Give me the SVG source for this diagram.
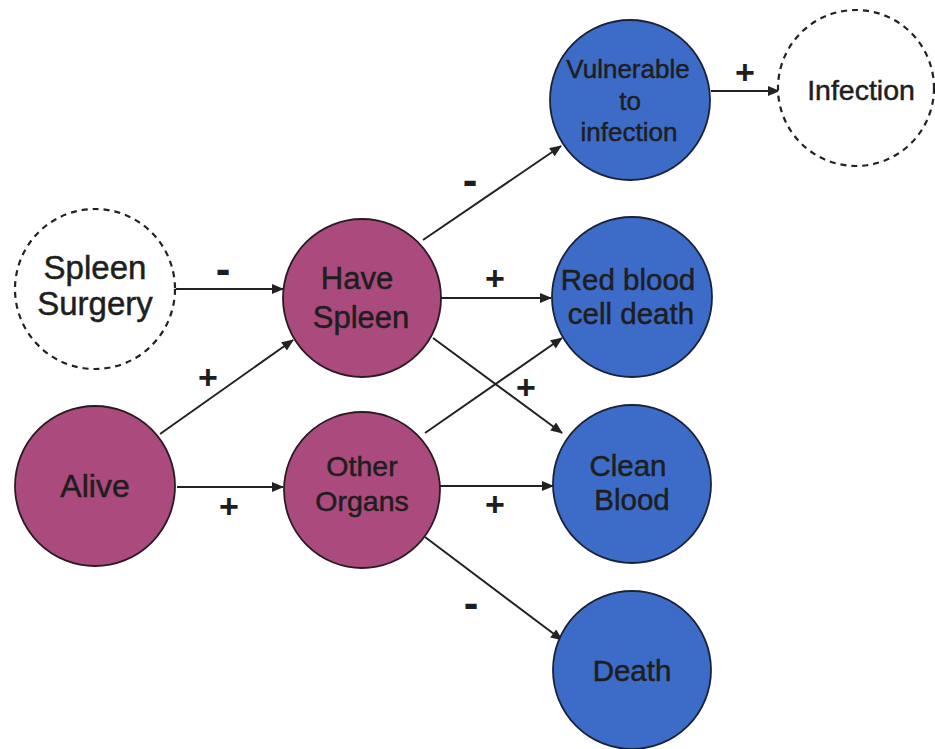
<svg xmlns="http://www.w3.org/2000/svg" width="935" height="749" viewBox="0 0 935 749">
<style>
.pink{fill:#ab4a7c;stroke:#2a1a22;stroke-width:1.8}
.blue{fill:#3d6cc8;stroke:#1a2238;stroke-width:1.8}
.dash{fill:#fff;stroke:#222;stroke-width:2.2;stroke-dasharray:6 5}
.t{font-family:"Liberation Sans",Arial,sans-serif;font-size:30px;fill:#1e1e1e;stroke:#1e1e1e;stroke-width:0.5;text-anchor:middle}
.lbl{font-family:"Liberation Sans",Arial,sans-serif;font-size:34px;font-weight:bold;fill:#1e1e1e;text-anchor:middle}
.mn{font-size:44px}
.e{stroke:#222;stroke-width:2;fill:none;marker-end:url(#ah)}
</style>
<defs>
<marker id="ah" viewBox="0 0 12 10" refX="11" refY="5" markerWidth="13" markerHeight="10" markerUnits="userSpaceOnUse" orient="auto">
<path d="M0,0 L12,5 L0,10 Z" fill="#222"/>
</marker>
</defs>
<rect width="935" height="749" fill="#fff"/>
<g id="connectors">
<line class="e" x1="176" y1="289" x2="283" y2="289"/>
<line class="e" x1="160" y1="434" x2="293" y2="340"/>
<line class="e" x1="177" y1="487" x2="283" y2="487"/>
<line class="e" x1="423" y1="240" x2="561" y2="146"/>
<line class="e" x1="440" y1="298" x2="551" y2="298"/>
<line class="e" x1="433" y1="338" x2="562" y2="433"/>
<line class="e" x1="425" y1="433" x2="562" y2="338"/>
<line class="e" x1="440" y1="486" x2="553" y2="486"/>
<line class="e" x1="425" y1="537" x2="562" y2="640"/>
<line class="e" x1="711" y1="91" x2="779" y2="91"/>
<text class="lbl mn" x="223" y="284">-</text>
<text class="lbl" x="208" y="389">+</text>
<text class="lbl" x="229" y="518">+</text>
<text class="lbl mn" x="470" y="195">-</text>
<text class="lbl" x="495" y="290">+</text>
<text class="lbl" x="526" y="399">+</text>
<text class="lbl" x="495" y="516">+</text>
<text class="lbl mn" x="471" y="618">-</text>
<text class="lbl" x="745" y="84">+</text>
</g>
<g id="spleen-surgery"><circle class="dash" cx="95" cy="289" r="80"/><text class="t" x="95" y="279" style="font-size:33px">Spleen</text><text class="t" x="95" y="315" style="font-size:33px">Surgery</text></g>
<g id="alive"><circle class="pink" cx="95" cy="486" r="80"/><text class="t" x="95" y="497" style="font-size:32px">Alive</text></g>
<g id="have-spleen"><circle class="pink" cx="362" cy="298" r="79"/><text class="t" x="357" y="289" style="font-size:31px">Have</text><text class="t" x="361" y="328" style="font-size:31px">Spleen</text></g>
<g id="other-organs"><circle class="pink" cx="362" cy="490" r="78"/><text class="t" x="362" y="476" style="font-size:28.5px">Other</text><text class="t" x="362" y="511" style="font-size:28.5px">Organs</text></g>
<g id="vulnerable"><circle class="blue" cx="630" cy="100" r="80"/><text class="t" x="628" y="78" style="font-size:26px">Vulnerable</text><text class="t" x="630" y="110" style="font-size:26px">to</text><text class="t" x="629" y="141" style="font-size:26px">infection</text></g>
<g id="infection"><circle class="dash" cx="856" cy="88" r="78"/><text class="t" x="861" y="100" style="font-size:28.5px">Infection</text></g>
<g id="red-blood"><circle class="blue" cx="632" cy="297" r="80"/><text class="t" x="628" y="290" style="font-size:29.5px">Red blood</text><text class="t" x="631" y="324" style="font-size:29.5px">cell death</text></g>
<g id="clean-blood"><circle class="blue" cx="632" cy="484" r="79"/><text class="t" x="628" y="476" style="font-size:29.5px">Clean</text><text class="t" x="632" y="510" style="font-size:29.5px">Blood</text></g>
<g id="death"><circle class="blue" cx="632" cy="670" r="79"/><text class="t" x="632" y="681" style="font-size:29.5px">Death</text></g>
</svg>
